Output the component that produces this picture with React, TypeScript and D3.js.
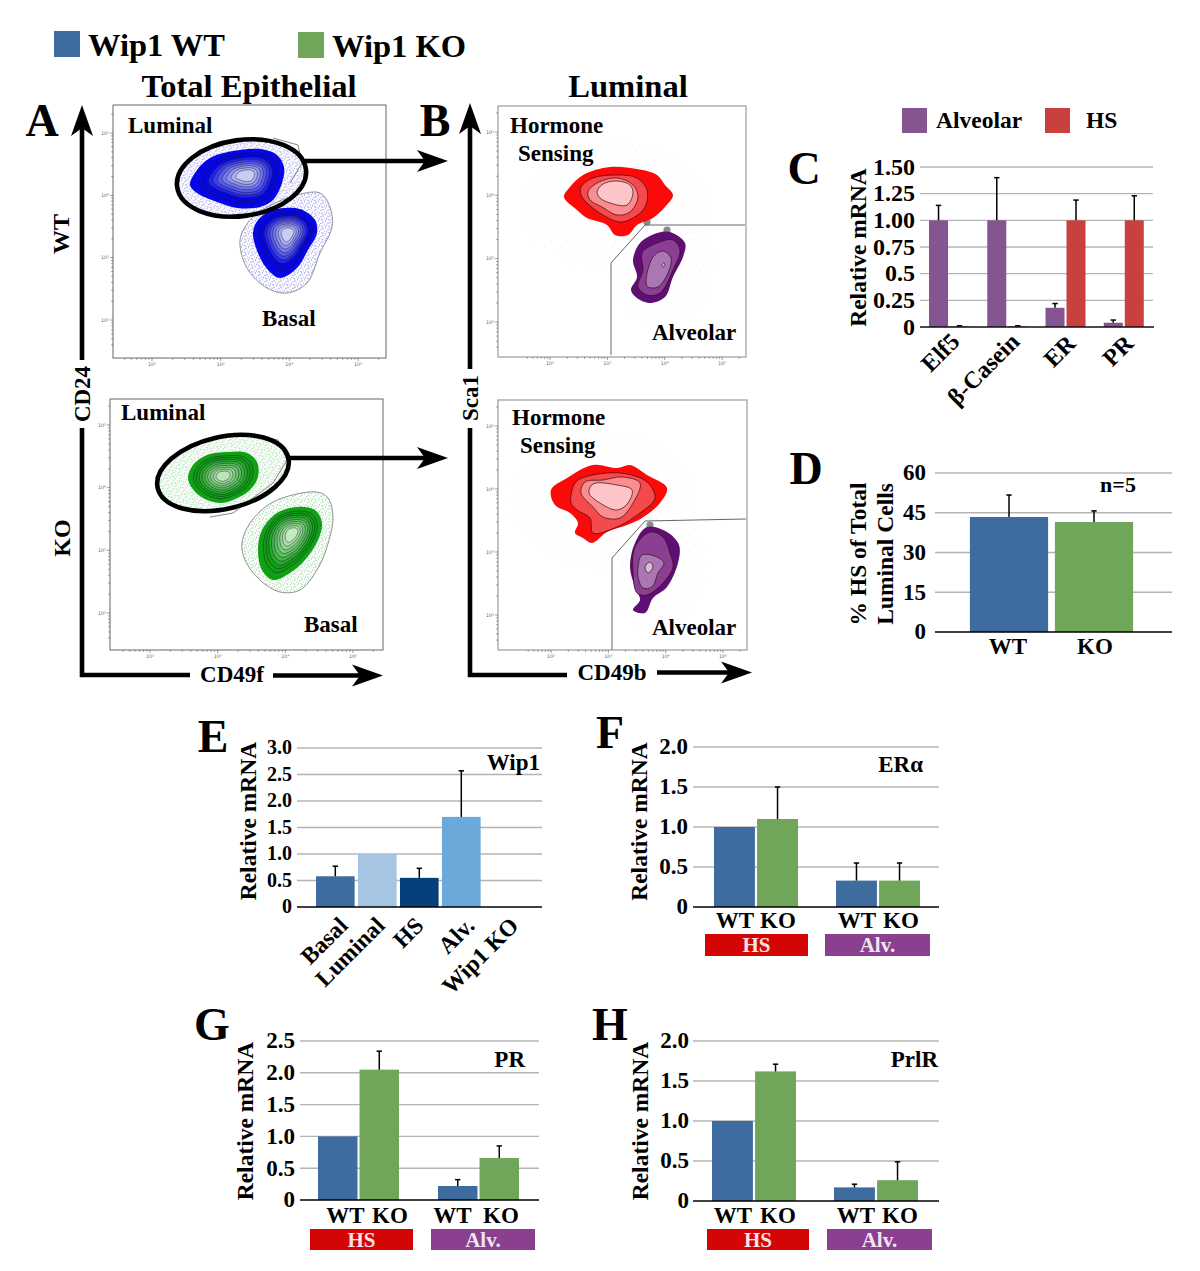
import React from "react";
import * as d3 from "d3";

const SERIF = "'Liberation Serif', 'Times New Roman', serif";
type P = [number, number];

// ---------- bar chart values ----------
const cCategories = ["Elf5", "β-Casein", "ER", "PR"];
const cAlveolar = [1.0, 1.0, 0.18, 0.04];
const cAlveolarErr = [1.14, 1.4, 0.22, 0.065];
const cHS = [0.006, 0.006, 1.0, 1.0];
const cHSErr = [0.012, 0.012, 1.19, 1.23];
const cTicks = [0, 0.25, 0.5, 0.75, 1.0, 1.25, 1.5];
const cTickLabels = ["0", "0.25", "0.5", "0.75", "1.00", "1.25", "1.50"];

const dCategories = ["WT", "KO"];
const dValues = [43.4, 41.5];
const dErr = [51.7, 45.7];
const dTicks = [0, 15, 30, 45, 60];

const eCategories = ["Basal", "Luminal", "HS", "Alv.", "Wip1 KO"];
const eValues = [0.58, 1.0, 0.55, 1.7, 0];
const eErr = [0.77, 1.0, 0.73, 2.57, 0];
const eTicks = [0, 0.5, 1, 1.5, 2, 2.5, 3];

const fValues = [1.0, 1.1, 0.33, 0.33];
const fErr = [1.0, 1.5, 0.55, 0.55];
const gValues = [1.0, 2.05, 0.22, 0.66];
const gErr = [1.0, 2.34, 0.32, 0.85];
const hValues = [1.0, 1.62, 0.17, 0.26];
const hErr = [1.0, 1.71, 0.21, 0.49];
const twoDecimalTicks = [0, 0.5, 1, 1.5, 2];
const gTicks = [0, 0.5, 1, 1.5, 2, 2.5];
const genotypeLabels = ["WT", "KO", "WT", "KO"];

// ---------- flow cytometry contours, in channel units of each plot ----------
const aWtLuminal: P[] = [[77,173],[84,188],[97,200],[120,207],[147,209],[164,203],[171,191],[169,175],[160,158],[147,151],[124,150],[104,156],[84,165]];
const aWtLuminalPeak: P = [134, 183];
const aWtLuminalGate: P[] = [[160,220],[185,213],[189,195],[177,175]];
const aWtBasal: P[] = [[140,125],[145,138],[160,148],[187,149],[202,138],[204,125],[195,108],[184,90],[167,80],[155,88],[145,105]];
const aWtBasalPeak: P = [175, 125];
const aWtBasalGate: P[] = [[127,118],[137,138],[154,151],[184,163],[207,165],[217,151],[219,131],[207,105],[194,75],[174,65],[154,70],[134,90]];
const aKoLuminal: P[] = [[78,172],[83,185],[97,195],[117,198],[137,197],[147,188],[148,173],[140,160],[123,150],[110,147],[93,152],[82,162]];
const aKoLuminalPeak: P = [113, 174];
const aKoLuminalGate: P[] = [[153,213],[168,210],[177,190],[163,167],[123,137],[100,133]];
const aKoBasal: P[] = [[148,100],[152,120],[167,137],[187,143],[205,140],[212,127],[208,110],[195,90],[180,77],[163,70],[152,80]];
const aKoBasalPeak: P = [182, 117];
const aKoBasalGate: P[] = [[132,107],[140,127],[163,148],[207,158],[218,152],[223,133],[217,103],[207,80],[190,60],[170,58],[150,70],[135,90]];
const contourLevels = [1, 0.84, 0.76, 0.68, 0.6, 0.52, 0.44, 0.36, 0.28, 0.2];

const bWtRed: P[][] = [
  [[66,160],[72,170],[85,182],[112,190],[139,188],[159,182],[167,172],[175,162],[167,150],[155,139],[139,132],[130,122],[117,122],[109,132],[89,139],[79,147]],
  [[83,170],[95,179],[119,182],[139,179],[149,167],[147,150],[135,139],[122,135],[105,142],[89,154],[83,162]],
  [[90,165],[99,174],[119,179],[135,172],[140,160],[132,145],[119,142],[104,150],[92,157]],
  [[99,165],[105,173],[119,176],[132,172],[135,164],[129,152],[112,154],[102,159]],
];
const bWtPurple: P[][] = [
  [[133,67],[139,80],[135,97],[142,114],[159,124],[172,125],[187,114],[185,100],[175,80],[167,60],[152,54],[139,59]],
  [[140,70],[145,87],[144,104],[159,114],[175,117],[182,107],[175,87],[162,64],[149,62]],
  [[148,75],[155,100],[165,106],[173,99],[170,84],[160,70],[150,70]],
  [[164,92],[166,94],[167,92],[165,90]],
];
const bWtGate: P[] = [[113,2],[113,94],[147,132],[247,132]];
const bWtBumps: P[] = [[149,135],[169,127]];
const bKoRed: P[][] = [
  [[53,160],[69,172],[95,185],[119,182],[132,185],[149,175],[169,162],[162,147],[144,132],[129,125],[109,118],[94,107],[85,112],[77,117],[80,127],[72,137],[57,145]],
  [[73,147],[77,167],[87,173],[122,177],[149,168],[157,152],[142,137],[119,123],[95,117],[92,132],[79,140]],
  [[83,157],[87,168],[105,170],[124,173],[142,167],[135,147],[122,132],[105,133],[95,143]],
  [[91,157],[95,166],[119,165],[134,160],[130,147],[119,140],[102,147]],
];
const bKoPurple: P[][] = [
  [[135,40],[142,50],[137,63],[132,83],[137,107],[149,123],[169,118],[181,105],[180,87],[169,63],[155,52],[147,37]],
  [[135,78],[137,103],[152,118],[165,113],[172,97],[175,83],[165,67],[149,55],[139,57]],
  [[140,83],[144,95],[159,93],[166,87],[160,77],[154,63],[145,62],[140,73]],
  [[147,83],[152,88],[155,83],[150,77]],
];
const bKoGate: P[] = [[114,0],[114,92],[147,129],[248,131]];
const bKoBumps: P[] = [[152,125]];
const redShades = ["#fb0a0a", "#f6494c", "#f98d90", "#fdc5c8"];
const purpleShades = ["#5f0f74", "#8a3f95", "#a877b4", "#d5bedb"];
const decadeValues = [100, 1000, 10000, 100000];
const decadeLabels = ["10²", "10³", "10⁴", "10⁵"];

const closed = d3.line<P>().curve(d3.curveCatmullRomClosed.alpha(0.5));

type Frame = { ox: number; oy: number; w: number; h: number; xd: P; yd: P; stroke: string };

function frameScales(f: Frame) {
  const x = d3.scaleLinear().domain([0, f.w]).range([f.ox, f.ox + f.w]);
  const y = d3.scaleLinear().domain([0, f.h]).range([f.oy, f.oy - f.h]);
  return { x, y };
}

function FlowFrame({ f }: { f: Frame }) {
  const { x, y } = frameScales(f);
  const lx = d3.scaleLog().domain([100, 100000]).range(f.xd);
  const ly = d3.scaleLog().domain([100, 100000]).range(f.yd);
  const minorX = d3.scaleLog().domain([35, 230000]).ticks();
  const minorY = d3.scaleLog().domain([35, 230000]).ticks();
  return (
    <g>
      <rect x={x(0)} y={y(f.h)} width={f.w} height={f.h} fill="#fff" stroke={f.stroke} strokeWidth={f.stroke === "#555" ? 0.9 : 1.4} />
      {minorX.map((t, i) => {
        const major = decadeValues.includes(t);
        return <line key={i} x1={x(lx(t))} x2={x(lx(t))} y1={y(0)} y2={y(0) + (major ? 3 : 1.8)} stroke="#555" strokeWidth={0.6} />;
      })}
      {minorY.map((t, i) => {
        const major = decadeValues.includes(t);
        return <line key={i} x1={x(0)} x2={x(0) - (major ? 3 : 1.8)} y1={y(ly(t))} y2={y(ly(t))} stroke="#555" strokeWidth={0.6} />;
      })}
      {decadeValues.map((t, i) => (
        <text key={i} x={x(lx(t))} y={y(0) + 8} fontSize={4.8} fill="#666" textAnchor="middle" fontFamily="DejaVu Sans">{decadeLabels[i]}</text>
      ))}
      {decadeValues.map((t, i) => (
        <text key={i} x={x(0) - 4} y={y(ly(t)) + 1.5} fontSize={4.8} fill="#666" textAnchor="end" fontFamily="DejaVu Sans">{decadeLabels[i]}</text>
      ))}
    </g>
  );
}

function ContourBlob({ f, outline, peak, low, high }: { f: Frame; outline: P[]; peak: P; low: string; high: string }) {
  const { x, y } = frameScales(f);
  const shade = d3.scaleLinear<string>().domain([1, 0.76, 0.2]).range([low, low, high]).interpolate(d3.interpolateRgb as any);
  return (
    <g>
      {contourLevels.map((lv, i) => {
        const pts = outline.map(([a, b]) => [x(peak[0] + (a - peak[0]) * lv), y(peak[1] + (b - peak[1]) * lv)] as P);
        return (
          <path key={i} d={closed(pts) ?? ""} fill={shade(lv)} stroke={i === 0 ? "none" : "#12122a"} strokeWidth={i === 0 ? 0 : 0.55} strokeOpacity={0.8} />
        );
      })}
    </g>
  );
}

function Nested({ f, rings, shades }: { f: Frame; rings: P[][]; shades: string[] }) {
  const { x, y } = frameScales(f);
  return (
    <g>
      {rings.map((r, i) => (
        <path key={i} d={closed(r.map(([a, b]) => [x(a), y(b)] as P)) ?? ""} fill={shades[i]} stroke={i === 0 ? "none" : "#3a0a10"} strokeWidth={i === 0 ? 0 : 0.7} />
      ))}
    </g>
  );
}

function OuterGate({ f, pts, dots }: { f: Frame; pts: P[]; dots: string }) {
  const { x, y } = frameScales(f);
  return <path d={closed(pts.map(([a, b]) => [x(a), y(b)] as P)) ?? ""} fill={`url(#${dots})`} stroke="#777" strokeWidth={0.8} />;
}

function GateLine({ f, pts, width = 1 }: { f: Frame; pts: P[]; width?: number }) {
  const { x, y } = frameScales(f);
  const l = d3.line<P>();
  return <path d={l(pts.map(([a, b]) => [x(a), y(b)] as P)) ?? ""} fill="none" stroke="#666" strokeWidth={width} />;
}

function Bumps({ f, pts }: { f: Frame; pts: P[] }) {
  const { x, y } = frameScales(f);
  return <g>{pts.map(([a, b], i) => <circle key={i} cx={x(a)} cy={y(b)} r={3.6} fill="#8a8a8a" />)}</g>;
}

function GateEllipse({ f, cx, cy, rx, ry, rot, dots }: { f: Frame; cx: number; cy: number; rx: number; ry: number; rot: number; dots: string }) {
  const { x, y } = frameScales(f);
  return (
    <g transform={`translate(${x(cx)},${y(cy)}) rotate(${rot})`}>
      <ellipse rx={rx} ry={ry} fill={`url(#${dots})`} stroke="none" />
    </g>
  );
}
function GateRing({ f, cx, cy, rx, ry, rot }: { f: Frame; cx: number; cy: number; rx: number; ry: number; rot: number }) {
  const { x, y } = frameScales(f);
  return (
    <g transform={`translate(${x(cx)},${y(cy)}) rotate(${rot})`}>
      <ellipse rx={rx} ry={ry} fill="none" stroke="#000" strokeWidth={4.6} />
    </g>
  );
}

function T({ x, y, s, a = "start", rot, fill = "#000", children }: { x: number; y: number; s: number; a?: string; rot?: number; fill?: string; children: React.ReactNode }) {
  return (
    <text x={rot === undefined ? x : 0} y={rot === undefined ? y : 0} transform={rot === undefined ? undefined : `translate(${x},${y}) rotate(${rot})`} fontSize={s} fontWeight="bold" textAnchor={a as any} fontFamily={SERIF} fill={fill}>
      {children}
    </text>
  );
}

function Arrow({ x1, y1, x2, y2 }: { x1: number; y1: number; x2: number; y2: number }) {
  const L = Math.hypot(x2 - x1, y2 - y1);
  const head = `M${L},0 L${L - 31},-11 L${L - 23},0 L${L - 31},11 Z`;
  const ang = (Math.atan2(y2 - y1, x2 - x1) * 180) / Math.PI;
  return (
    <g transform={`translate(${x1},${y1}) rotate(${ang})`}>
      <line x1={0} y1={0} x2={L - 20} y2={0} stroke="#000" strokeWidth={4.6} />
      <path d={head} fill="#000" />
    </g>
  );
}

type BarSpec = { cat: string; v: number; e: number; color: string; left: number };

function Grid({ yScale, ticks, labels, x0, x1, tickX, fs }: { yScale: d3.ScaleLinear<number, number>; ticks: number[]; labels: string[]; x0: number; x1: number; tickX: number; fs: number }) {
  return (
    <g>
      {ticks.slice(1).map((t, i) => (
        <line key={i} x1={x0} x2={x1} y1={yScale(t)} y2={yScale(t)} stroke="#b4b4b4" strokeWidth={1.4} />
      ))}
      {ticks.map((t, i) => (
        <T key={i} x={tickX} y={yScale(t) + fs * 0.32} s={fs} a="end">{labels[i]}</T>
      ))}
    </g>
  );
}

function Bars({ yScale, bars, width }: { yScale: d3.ScaleLinear<number, number>; bars: BarSpec[]; width: number }) {
  return (
    <g>
      {bars.map((b, i) => (
        <rect key={i} x={b.left} y={yScale(b.v)} width={width} height={yScale(0) - yScale(b.v)} fill={b.color} />
      ))}
      {bars.filter((b) => b.e > b.v).map((b, i) => {
        const cx = b.left + width / 2;
        return (
          <g key={i} stroke="#000" strokeWidth={1.5}>
            <line x1={cx} x2={cx} y1={yScale(b.v)} y2={yScale(b.e)} />
            <line x1={cx - 2.7} x2={cx + 2.7} y1={yScale(b.e)} y2={yScale(b.e)} />
          </g>
        );
      })}
    </g>
  );
}

const WT_COLOR = "#3e6c9e";
const KO_COLOR = "#6fa65a";
const ALV_COLOR = "#845591";
const HS_COLOR = "#c9403f";
const HS_BOX = "#d40505";
const ALV_BOX = "#8b3f8f";

function GroupedPanel({ values, errs, ticks, top, zero, domainMax, gridL, gridR, bar0, groupStep, pairWidth, tickX, yLabelX, yLabelY, labelY, boxes, boxY, boxH, title, titleX, titleY, labelXs }: any) {
  const y = d3.scaleLinear().domain([0, domainMax]).range([zero, top]);
  const outer = d3.scaleBand<string>().domain(["HS", "Alv."]).range([bar0, bar0 + groupStep * 2]).paddingInner(0);
  const inner = d3.scaleBand<string>().domain(["WT", "KO"]).range([0, pairWidth]).paddingInner(0.05);
  const lefts = ["HS", "Alv."].flatMap((g) => ["WT", "KO"].map((k) => (outer(g) as number) + (inner(k) as number)));
  const bars: BarSpec[] = values.map((v: number, i: number) => ({ cat: genotypeLabels[i], v, e: errs[i], color: i % 2 ? KO_COLOR : WT_COLOR, left: lefts[i] }));
  return (
    <g>
      <Grid yScale={y} ticks={ticks} labels={ticks.map((t: number) => (t === 0 ? "0" : t.toFixed(1)))} x0={gridL} x1={gridR} tickX={tickX} fs={23} />
      <Bars yScale={y} bars={bars} width={inner.bandwidth()} />
      <line x1={gridL} x2={gridR} y1={zero} y2={zero} stroke="#000" strokeWidth={1.6} />
      <T x={yLabelX} y={yLabelY} s={23.5} a="middle" rot={-90}>Relative mRNA</T>
      {genotypeLabels.map((l, i) => (
        <T key={i} x={labelXs[i]} y={labelY} s={23} a="middle">{l}</T>
      ))}
      <rect x={boxes[0][0]} y={boxY} width={boxes[0][1] - boxes[0][0]} height={boxH} fill={HS_BOX} />
      <rect x={boxes[1][0]} y={boxY} width={boxes[1][1] - boxes[1][0]} height={boxH} fill={ALV_BOX} />
      <T x={(boxes[0][0] + boxes[0][1]) / 2} y={boxY + 18} s={21} a="middle" fill="#f6e4e4">HS</T>
      <T x={(boxes[1][0] + boxes[1][1]) / 2} y={boxY + 18} s={21} a="middle" fill="#f0e6f2">Alv.</T>
      <T x={titleX} y={titleY} s={23} a="end">{title}</T>
    </g>
  );
}

export default function App() {
  const fAW: Frame = { ox: 113, oy: 358, w: 273, h: 253, xd: [39, 245], yd: [38, 225], stroke: "#555" };
  const fAK: Frame = { ox: 110, oy: 650, w: 273, h: 251, xd: [40, 243], yd: [37, 225], stroke: "#555" };
  const fBW: Frame = { ox: 498, oy: 357, w: 248, h: 251, xd: [52, 224], yd: [35, 225], stroke: "#aaa" };
  const fBK: Frame = { ox: 498, oy: 650, w: 249, h: 250, xd: [53, 225], yd: [35, 224], stroke: "#aaa" };

  // Panel C
  const cY = d3.scaleLinear().domain([0, 1.5]).range([327, 167]);
  const cBand = d3.scaleBand<string>().domain(cCategories).range([920, 1153]).paddingInner(0.31).paddingOuter(0.155);
  const cBars: BarSpec[] = cCategories.flatMap((c, i) => [
    { cat: c, v: cAlveolar[i], e: cAlveolarErr[i], color: ALV_COLOR, left: cBand(c) as number },
    { cat: c, v: cHS[i], e: cHSErr[i], color: HS_COLOR, left: (cBand(c) as number) + 21 },
  ]);

  // Panel D
  const dY = d3.scaleLinear().domain([0, 60]).range([632, 473]);
  const dBand = d3.scaleBand<string>().domain(dCategories).range([966.5, 1136.5]).paddingInner(0.08).paddingOuter(0.04);
  const dBars: BarSpec[] = dCategories.map((c, i) => ({ cat: c, v: dValues[i], e: dErr[i], color: i ? KO_COLOR : WT_COLOR, left: dBand(c) as number }));

  // Panel E
  const eY = d3.scaleLinear().domain([0, 3]).range([907, 748]);
  const eBand = d3.scaleBand<string>().domain(eCategories).range([314.3, 524.3]).paddingInner(0.08).paddingOuter(0.04);
  const eColors = ["#3e6c9e", "#a5c5e3", "#053f7c", "#6aa9da", "#6aa9da"];
  const eBars: BarSpec[] = eCategories.map((c, i) => ({ cat: c, v: eValues[i], e: eErr[i], color: eColors[i], left: eBand(c) as number }));

  return (
    <svg width={1200} height={1271} viewBox="0 0 1200 1271" style={{ position: "absolute", left: 0, top: 0, background: "#fff" }}>
      <defs>
        {[["dotsBlue", "#2a2ae0"], ["dotsGreen", "#2fae3a"], ["dotsGrey", "#9a9a9a"]].map(([id, c]) => (
          <pattern key={id} id={id} width={7} height={6.5} patternUnits="userSpaceOnUse">
            <circle cx={1} cy={1.5} r={0.5} fill={c} />
            <circle cx={3.6} cy={0.8} r={0.4} fill={c} />
            <circle cx={6} cy={2.4} r={0.5} fill={c} />
            <circle cx={2.4} cy={3.6} r={0.45} fill={c} />
            <circle cx={4.6} cy={4.4} r={0.5} fill={c} />
            <circle cx={6.5} cy={5.3} r={0.4} fill={c} />
            <circle cx={0.8} cy={5.6} r={0.5} fill={c} />
            <circle cx={3.2} cy={6} r={0.4} fill={c} />
          </pattern>
        ))}
        <pattern id="dotsSparse" width={17} height={15} patternUnits="userSpaceOnUse">
          <circle cx={3} cy={4} r={0.35} fill="#b89" />
          <circle cx={11} cy={2} r={0.3} fill="#aaa" />
          <circle cx={14} cy={10} r={0.35} fill="#b89" />
          <circle cx={6} cy={12} r={0.3} fill="#aaa" />
        </pattern>
      </defs>

      {/* legend and titles */}
      <rect x={54} y={31} width={26} height={26} fill={WT_COLOR} />
      <T x={88} y={56} s={32.5}>Wip1 WT</T>
      <rect x={298} y={32} width={26} height={26} fill={KO_COLOR} />
      <T x={332} y={57} s={32.5}>Wip1 KO</T>
      <T x={249} y={97} s={32.6} a="middle">Total Epithelial</T>
      <T x={628} y={97} s={32.6} a="middle">Luminal</T>

      {/* flow plots, panel A */}
      <FlowFrame f={fAW} />
      <GateEllipse f={fAW} cx={128.5} cy={180} rx={65} ry={38} rot={-8} dots="dotsBlue" />
      <OuterGate f={fAW} pts={aWtBasalGate} dots="dotsBlue" />
      <GateLine f={fAW} pts={aWtLuminalGate} width={0.8} />
      <ContourBlob f={fAW} outline={aWtLuminal} peak={aWtLuminalPeak} low="#0606e6" high="#c8ccf4" />
      <ContourBlob f={fAW} outline={aWtBasal} peak={aWtBasalPeak} low="#0606e6" high="#c8ccf4" />
      <GateRing f={fAW} cx={128.5} cy={180} rx={65} ry={38} rot={-8} />

      <FlowFrame f={fAK} />
      <GateEllipse f={fAK} cx={113} cy={177} rx={67} ry={36} rot={-13} dots="dotsGreen" />
      <OuterGate f={fAK} pts={aKoBasalGate} dots="dotsGreen" />
      <GateLine f={fAK} pts={aKoLuminalGate} width={0.8} />
      <ContourBlob f={fAK} outline={aKoLuminal} peak={aKoLuminalPeak} low="#0fa014" high="#b8e6b4" />
      <ContourBlob f={fAK} outline={aKoBasal} peak={aKoBasalPeak} low="#0fa014" high="#c4ecc0" />
      <GateRing f={fAK} cx={113} cy={177} rx={67} ry={36} rot={-13} />

      {/* flow plots, panel B */}
      <FlowFrame f={fBW} />
      <GateEllipse f={fBW} cx={118} cy={150} rx={95} ry={65} rot={0} dots="dotsSparse" />
      <GateEllipse f={fBW} cx={165} cy={90} rx={55} ry={60} rot={0} dots="dotsSparse" />
      <Bumps f={fBW} pts={bWtBumps} />
      <Nested f={fBW} rings={bWtRed} shades={redShades} />
      <Nested f={fBW} rings={bWtPurple} shades={purpleShades} />
      <GateLine f={fBW} pts={bWtGate} />

      <FlowFrame f={fBK} />
      <GateEllipse f={fBK} cx={105} cy={150} rx={95} ry={70} rot={0} dots="dotsSparse" />
      <GateEllipse f={fBK} cx={160} cy={80} rx={50} ry={60} rot={0} dots="dotsSparse" />
      <Bumps f={fBK} pts={bKoBumps} />
      <Nested f={fBK} rings={bKoRed} shades={redShades} />
      <Nested f={fBK} rings={bKoPurple} shades={purpleShades} />
      <GateLine f={fBK} pts={bKoGate} />

      {/* flow labels */}
      <T x={128} y={133} s={23}>Luminal</T>
      <T x={262} y={326} s={23}>Basal</T>
      <T x={121} y={420} s={23}>Luminal</T>
      <T x={304} y={632} s={23}>Basal</T>
      <T x={510} y={133} s={23}>Hormone</T>
      <T x={518} y={161} s={23}>Sensing</T>
      <T x={652} y={340} s={23}>Alveolar</T>
      <T x={512} y={425} s={23}>Hormone</T>
      <T x={520} y={453} s={23}>Sensing</T>
      <T x={652} y={635} s={23}>Alveolar</T>
      <T x={69} y={234} s={24} a="middle" rot={-90}>WT</T>
      <T x={70} y={538} s={24} a="middle" rot={-90}>KO</T>

      {/* thick axes and arrows */}
      <Arrow x1={82} y1={360} x2={82} y2={105} />
      <line x1={82} x2={82} y1={428} y2={677} stroke="#000" strokeWidth={4.6} />
      <line x1={80} x2={190} y1={675} y2={675} stroke="#000" strokeWidth={4.6} />
      <Arrow x1={273} y1={675.5} x2={383} y2={675.5} />
      <T x={90} y={394} s={23} a="middle" rot={-90}>CD24</T>
      <T x={232} y={682} s={23} a="middle">CD49f</T>
      <Arrow x1={470} y1={369} x2={470} y2={103} />
      <line x1={470} x2={470} y1={428} y2={677} stroke="#000" strokeWidth={4.6} />
      <line x1={468} x2={567} y1={675} y2={675} stroke="#000" strokeWidth={4.6} />
      <Arrow x1={657} y1={672.5} x2={752} y2={672.5} />
      <T x={478} y={398} s={23} a="middle" rot={-90}>Sca1</T>
      <T x={612} y={680} s={23} a="middle">CD49b</T>
      <Arrow x1={305} y1={161} x2={448} y2={161} />
      <Arrow x1={288} y1={458} x2={448} y2={458} />

      {/* panel letters */}
      <T x={42} y={136} s={46} a="middle">A</T>
      <T x={435} y={136} s={46} a="middle">B</T>
      <T x={804} y={184} s={46} a="middle">C</T>
      <T x={806} y={484} s={46} a="middle">D</T>
      <T x={213} y={752} s={46} a="middle">E</T>
      <T x={610} y={748} s={46} a="middle">F</T>
      <T x={212} y={1040} s={46} a="middle">G</T>
      <T x={610} y={1040} s={46} a="middle">H</T>

      {/* panel C */}
      <rect x={902} y={108} width={25} height={25} fill={ALV_COLOR} />
      <T x={936} y={128} s={23.5}>Alveolar</T>
      <rect x={1045} y={108} width={25} height={25} fill={HS_COLOR} />
      <T x={1086} y={128} s={23.5}>HS</T>
      <Grid yScale={cY} ticks={cTicks} labels={cTickLabels} x0={920} x1={1153} tickX={915} fs={24} />
      <Bars yScale={cY} bars={cBars} width={19} />
      <line x1={920} x2={1154} y1={327} y2={327} stroke="#111" strokeWidth={1.6} />
      <T x={866} y={247.5} s={23.5} a="middle" rot={-90}>Relative mRNA</T>
      {cCategories.map((c, i) => (
        <T key={c} x={[961, 1021, 1077, 1135][i]} y={[343, 343, 345, 345][i]} s={24} a="end" rot={-45}>{c}</T>
      ))}

      {/* panel D */}
      <Grid yScale={dY} ticks={dTicks} labels={dTicks.map(String)} x0={935} x1={1172} tickX={926} fs={23} />
      <Bars yScale={dY} bars={dBars} width={dBand.bandwidth()} />
      <line x1={935} x2={1172} y1={632} y2={632} stroke="#000" strokeWidth={1.6} />
      <T x={866} y={554} s={23.5} a="middle" rot={-90}>% HS of Total</T>
      <T x={893} y={554} s={23.5} a="middle" rot={-90}>Luminal Cells</T>
      {dCategories.map((c, i) => (
        <T key={c} x={[1008, 1095][i]} y={654} s={23} a="middle">{c}</T>
      ))}
      <T x={1118} y={492} s={22} a="middle">n=5</T>

      {/* panel E */}
      <Grid yScale={eY} ticks={eTicks} labels={eTicks.map((t) => (t === 0 ? "0" : t.toFixed(1)))} x0={297} x1={542} tickX={292} fs={20} />
      <Bars yScale={eY} bars={eBars} width={eBand.bandwidth()} />
      <line x1={297} x2={542} y1={907} y2={907} stroke="#000" strokeWidth={1.6} />
      <T x={256} y={821} s={23.5} a="middle" rot={-90}>Relative mRNA</T>
      <T x={540} y={770} s={23} a="end">Wip1</T>
      {eCategories.map((c, i) => (
        <T key={c} x={[349, 386, 425, 476, 520][i]} y={[927, 927, 927, 927, 927][i]} s={23.5} a="end" rot={-45}>{c}</T>
      ))}

      <GroupedPanel values={fValues} errs={fErr} ticks={twoDecimalTicks} top={747} zero={907} domainMax={2} gridL={693} gridR={939} bar0={714} groupStep={122} pairWidth={84} tickX={688} yLabelX={647} yLabelY={821.5} labelY={928} boxes={[[705, 808], [825, 930]]} boxY={934} boxH={22} title="ERα" titleX={923} titleY={772} labelXs={[735, 778, 857, 901]} />
      <GroupedPanel values={gValues} errs={gErr} ticks={gTicks} top={1041} zero={1200} domainMax={2.5} gridL={300} gridR={539} bar0={318} groupStep={120} pairWidth={81} tickX={295} yLabelX={253} yLabelY={1121} labelY={1223} boxes={[[310, 413], [431, 535]]} boxY={1229} boxH={21} title="PR" titleX={525} titleY={1067} labelXs={[345.5, 390, 452.5, 501]} />
      <GroupedPanel values={hValues} errs={hErr} ticks={twoDecimalTicks} top={1041} zero={1201} domainMax={2} gridL={693} gridR={939} bar0={712} groupStep={122} pairWidth={84} tickX={689} yLabelX={648} yLabelY={1121} labelY={1223} boxes={[[707, 809], [827, 932]]} boxY={1229} boxH={21} title="PrlR" titleX={938} titleY={1067} labelXs={[733, 778, 856, 900]} />
    </svg>
  );
}
